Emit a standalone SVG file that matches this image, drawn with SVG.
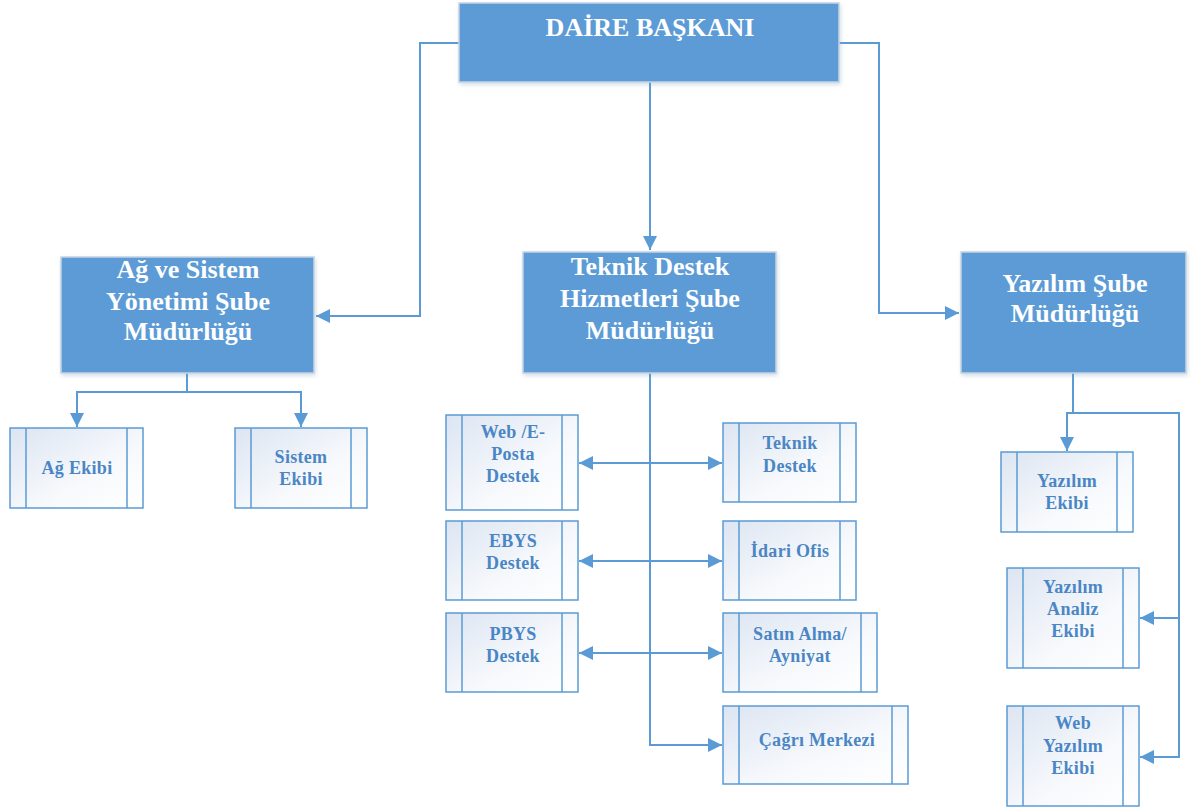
<svg xmlns="http://www.w3.org/2000/svg" width="1192" height="810" viewBox="0 0 1192 810">
<defs>
<linearGradient id="g" x1="0" y1="0" x2="1" y2="1">
<stop offset="0" stop-color="#DCE5F2"/>
<stop offset="0.6" stop-color="#F7F9FC"/>
<stop offset="1" stop-color="#FFFFFF"/>
</linearGradient>
<filter id="sh" x="-5%" y="-5%" width="112%" height="115%">
<feDropShadow dx="1" dy="2" stdDeviation="2" flood-color="#7F9DBF" flood-opacity="0.35"/>
</filter>
<marker id="ar" markerUnits="userSpaceOnUse" markerWidth="14" markerHeight="14" refX="12" refY="6" orient="auto-start-reverse" viewBox="0 0 12 12">
<path d="M0,0 L12,6 L0,12 z" fill="#5B9BD5"/>
</marker>
</defs>
<style>
.big{fill:#5B9BD5;stroke:#C5D3E2;stroke-width:1.5;filter:url(#sh)}
.sm{fill:url(#g);stroke:#5B9BD5;stroke-width:1.5}
.in{stroke:#5B9BD5;stroke-width:1.5}
.bt{font-family:'Liberation Serif','Times New Roman','DejaVu Serif',serif;font-weight:700;font-size:26px;fill:#FFFFFF;text-anchor:middle}
.st{font-family:'Liberation Serif','Times New Roman','DejaVu Serif',serif;font-weight:700;font-size:18px;letter-spacing:0.3px;fill:#4A86C5;text-anchor:middle}
.c{fill:none;stroke:#5B9BD5;stroke-width:2}
</style>
<g id="connectors">
<path class="c" d="M459,43 H420 V316 H316" marker-end="url(#ar)"/>
<path class="c" d="M839,43 H879 V313 H959" marker-end="url(#ar)"/>
<path class="c" d="M650,82 V250" marker-end="url(#ar)"/>
<path class="c" d="M187,373 V392 H77 V427" marker-end="url(#ar)"/>
<path class="c" d="M187,392 H301 V427" marker-end="url(#ar)"/>
<path class="c" d="M650,373 V745 H722" marker-end="url(#ar)"/>
<path class="c" d="M579,463 H722" marker-start="url(#ar)" marker-end="url(#ar)"/>
<path class="c" d="M579,561 H722" marker-start="url(#ar)" marker-end="url(#ar)"/>
<path class="c" d="M579,653 H722" marker-start="url(#ar)" marker-end="url(#ar)"/>
<path class="c" d="M1073,373 V413 H1067 V451" marker-end="url(#ar)"/>
<path class="c" d="M1073,413 H1179 V757 H1140" marker-end="url(#ar)"/>
<path class="c" d="M1179,618 H1140" marker-end="url(#ar)"/>
</g>
<g id="daire-baskani">
<rect class="big" x="459" y="3" width="380" height="79"/>
<text class="bt" x="650" y="36">DAİRE BAŞKANI</text>
</g>
<g id="ag-sistem">
<rect class="big" x="61" y="257" width="253" height="116"/>
<text class="bt" x="188" y="278">Ağ ve Sistem</text>
<text class="bt" x="188" y="310">Yönetimi Şube</text>
<text class="bt" x="188" y="340">Müdürlüğü</text>
</g>
<g id="teknik-destek-sube">
<rect class="big" x="523" y="252" width="253" height="121"/>
<text class="bt" x="650" y="275">Teknik Destek</text>
<text class="bt" x="650" y="307">Hizmetleri Şube</text>
<text class="bt" x="650" y="339">Müdürlüğü</text>
</g>
<g id="yazilim-sube">
<rect class="big" x="961" y="252" width="225" height="121"/>
<text class="bt" x="1075" y="292">Yazılım Şube</text>
<text class="bt" x="1075" y="322">Müdürlüğü</text>
</g>
<g id="ag-ekibi">
<rect class="sm" x="10" y="428" width="133" height="80"/>
<line class="in" x1="26" y1="428" x2="26" y2="508"/>
<line class="in" x1="127" y1="428" x2="127" y2="508"/>
<text class="st" x="77" y="474">Ağ Ekibi</text>
</g>
<g id="sistem-ekibi">
<rect class="sm" x="235" y="428" width="132" height="80"/>
<line class="in" x1="251" y1="428" x2="251" y2="508"/>
<line class="in" x1="351" y1="428" x2="351" y2="508"/>
<text class="st" x="301" y="463">Sistem</text>
<text class="st" x="301" y="485">Ekibi</text>
</g>
<g id="web-eposta">
<rect class="sm" x="446" y="415" width="132" height="95"/>
<line class="in" x1="462" y1="415" x2="462" y2="510"/>
<line class="in" x1="562" y1="415" x2="562" y2="510"/>
<text class="st" x="513" y="438">Web /E-</text>
<text class="st" x="513" y="460">Posta</text>
<text class="st" x="513" y="482">Destek</text>
</g>
<g id="ebys">
<rect class="sm" x="446" y="521" width="132" height="79"/>
<line class="in" x1="462" y1="521" x2="462" y2="600"/>
<line class="in" x1="562" y1="521" x2="562" y2="600"/>
<text class="st" x="513" y="547">EBYS</text>
<text class="st" x="513" y="569">Destek</text>
</g>
<g id="pbys">
<rect class="sm" x="446" y="613" width="132" height="79"/>
<line class="in" x1="462" y1="613" x2="462" y2="692"/>
<line class="in" x1="562" y1="613" x2="562" y2="692"/>
<text class="st" x="513" y="640">PBYS</text>
<text class="st" x="513" y="662">Destek</text>
</g>
<g id="teknik-destek">
<rect class="sm" x="723" y="423" width="133" height="79"/>
<line class="in" x1="739" y1="423" x2="739" y2="502"/>
<line class="in" x1="840" y1="423" x2="840" y2="502"/>
<text class="st" x="790" y="449">Teknik</text>
<text class="st" x="790" y="472">Destek</text>
</g>
<g id="idari-ofis">
<rect class="sm" x="723" y="521" width="133" height="79"/>
<line class="in" x1="739" y1="521" x2="739" y2="600"/>
<line class="in" x1="840" y1="521" x2="840" y2="600"/>
<text class="st" x="790" y="557">İdari Ofis</text>
</g>
<g id="satin-alma">
<rect class="sm" x="723" y="613" width="154" height="79"/>
<line class="in" x1="739" y1="613" x2="739" y2="692"/>
<line class="in" x1="861" y1="613" x2="861" y2="692"/>
<text class="st" x="800" y="640">Satın Alma/</text>
<text class="st" x="800" y="662">Ayniyat</text>
</g>
<g id="cagri-merkezi">
<rect class="sm" x="723" y="706" width="185" height="78"/>
<line class="in" x1="739" y1="706" x2="739" y2="784"/>
<line class="in" x1="892" y1="706" x2="892" y2="784"/>
<text class="st" x="817" y="746">Çağrı Merkezi</text>
</g>
<g id="yazilim-ekibi">
<rect class="sm" x="1001" y="452" width="132" height="80"/>
<line class="in" x1="1017" y1="452" x2="1017" y2="532"/>
<line class="in" x1="1117" y1="452" x2="1117" y2="532"/>
<text class="st" x="1067" y="487">Yazılım</text>
<text class="st" x="1067" y="509">Ekibi</text>
</g>
<g id="yazilim-analiz">
<rect class="sm" x="1007" y="568" width="132" height="100"/>
<line class="in" x1="1023" y1="568" x2="1023" y2="668"/>
<line class="in" x1="1123" y1="568" x2="1123" y2="668"/>
<text class="st" x="1073" y="593">Yazılım</text>
<text class="st" x="1073" y="615">Analiz</text>
<text class="st" x="1073" y="637">Ekibi</text>
</g>
<g id="web-yazilim">
<rect class="sm" x="1007" y="706" width="132" height="100"/>
<line class="in" x1="1023" y1="706" x2="1023" y2="806"/>
<line class="in" x1="1123" y1="706" x2="1123" y2="806"/>
<text class="st" x="1073" y="729">Web</text>
<text class="st" x="1073" y="752">Yazılım</text>
<text class="st" x="1073" y="774">Ekibi</text>
</g>
</svg>
